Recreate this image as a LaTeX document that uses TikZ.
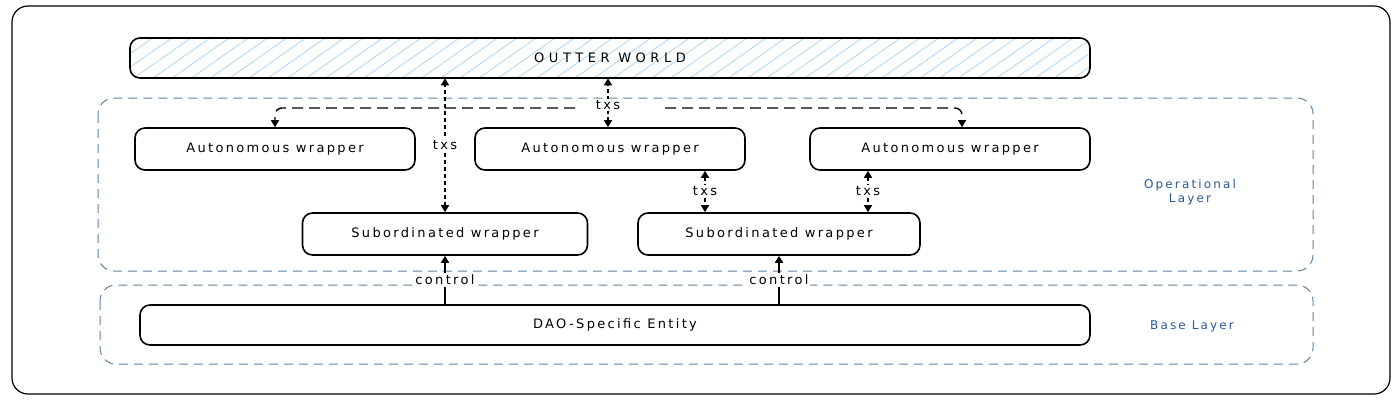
\documentclass[tikz,border=0pt]{standalone}
\usepackage{fontspec}
\setmainfont{DejaVu Sans}[LetterSpace=18]
\usepackage{tikz}
\usetikzlibrary{arrows.meta, patterns.meta}
\definecolor{hatchblue}{RGB}{165,210,245}
\definecolor{layerline}{RGB}{90,130,165}
\definecolor{layertext}{RGB}{40,90,150}
\tikzstyle{wrapper} = [rectangle, rounded corners=10pt,
minimum width=280pt,
minimum height=42pt,
text centered,
line width=1.6pt,
draw=black,
font=\fontsize{13}{15}\selectfont]
\tikzstyle{worldbox} = [wrapper,
minimum width=960pt,
minimum height=40pt,
pattern={Lines[angle=35,distance=11pt,line width=0.7pt]},
pattern color=hatchblue]
\tikzstyle{entity} = [wrapper,
minimum width=950pt,
minimum height=40pt]
\tikzstyle{layer} = [rounded corners=16pt,
line width=1pt,
draw=layerline,
dash pattern=on 9pt off 6pt]
\tikzstyle{layerlabel} = [align=center,
text=layertext,
font=\fontsize{12}{14}\selectfont]
\tikzstyle{lbl} = [fill=white, inner sep=1.5pt,
font=\fontsize{13}{15}\selectfont]
\tikzstyle{arrow} = [line width=1.6pt,-{Triangle[width=8pt,length=7pt]}]
\tikzstyle{txsarrow} = [line width=1.6pt,
dash pattern=on 4pt off 3pt,
{Triangle[width=8pt,length=7pt]}-{Triangle[width=8pt,length=7pt]}]
\tikzstyle{branch} = [line width=1.4pt,
dash pattern=on 11pt off 6pt,
rounded corners=7pt,
-{Triangle[width=8pt,length=7pt]}]

\begin{document}
\begin{tikzpicture}[x=1pt, y=-1pt, node distance=91pt]
            \useasboundingbox (0,0) rectangle (1400,400);
            \draw [line width=1.2pt, rounded corners=16pt] (12,6) rectangle (1390,394);
            \draw [layer] (98,98) rectangle (1313,271);
            \draw [layer] (100,285) rectangle (1313,364);

            \node (world) [worldbox] at (610,58) {\addfontfeature{LetterSpace=35}OUTTER WORLD};
            \node (aw2) [wrapper, minimum width=270pt, below of=world] {Autonomous wrapper};
            \node (aw1) [wrapper, left of=aw2, xshift=-244pt] {Autonomous wrapper};
            \node (aw3) [wrapper, right of=aw2, xshift=249pt] {Autonomous wrapper};
            \node (sw1) [wrapper, minimum width=285pt, below of=aw2, xshift=-165pt, yshift=6pt] {Subordinated wrapper};
            \node (sw2) [wrapper, minimum width=282pt, below of=aw2, xshift=169pt, yshift=6pt] {Subordinated wrapper};
            \node (dao) [entity] at (615,325) {DAO-Specific Entity};
            \node (oplabel) [layerlabel] at (1190,192) {Operational\\Layer};
            \node (baselabel) [layerlabel] at (1192,326) {Base Layer};

            \coordinate (hubl) at (575,108);
            \coordinate (hubr) at (665,108);
            \draw [branch] (hubl) -| (aw1.north);
            \draw [branch] (hubr) -| ([xshift=12pt]aw3.north);
            \draw [txsarrow] (sw1.north) -- node[lbl]{txs} (sw1.north |- world.south);
            \draw [txsarrow] ([xshift=-2pt]aw2.north) -- node[lbl, pos=0.45]{txs} ([xshift=-2pt]aw2.north |- world.south);
            \draw [txsarrow] ([xshift=95pt]aw2.south) -- node[lbl]{txs} ([xshift=95pt]aw2.south |- sw2.north);
            \draw [txsarrow] ([xshift=-82pt]aw3.south) -- node[lbl]{txs} ([xshift=-82pt]aw3.south |- sw2.north);
            \draw [arrow] (sw1.south |- dao.north) -- node[lbl]{control} (sw1.south);
            \draw [arrow] (sw2.south |- dao.north) -- node[lbl]{control} (sw2.south);
        \end{tikzpicture}
\end{document}
